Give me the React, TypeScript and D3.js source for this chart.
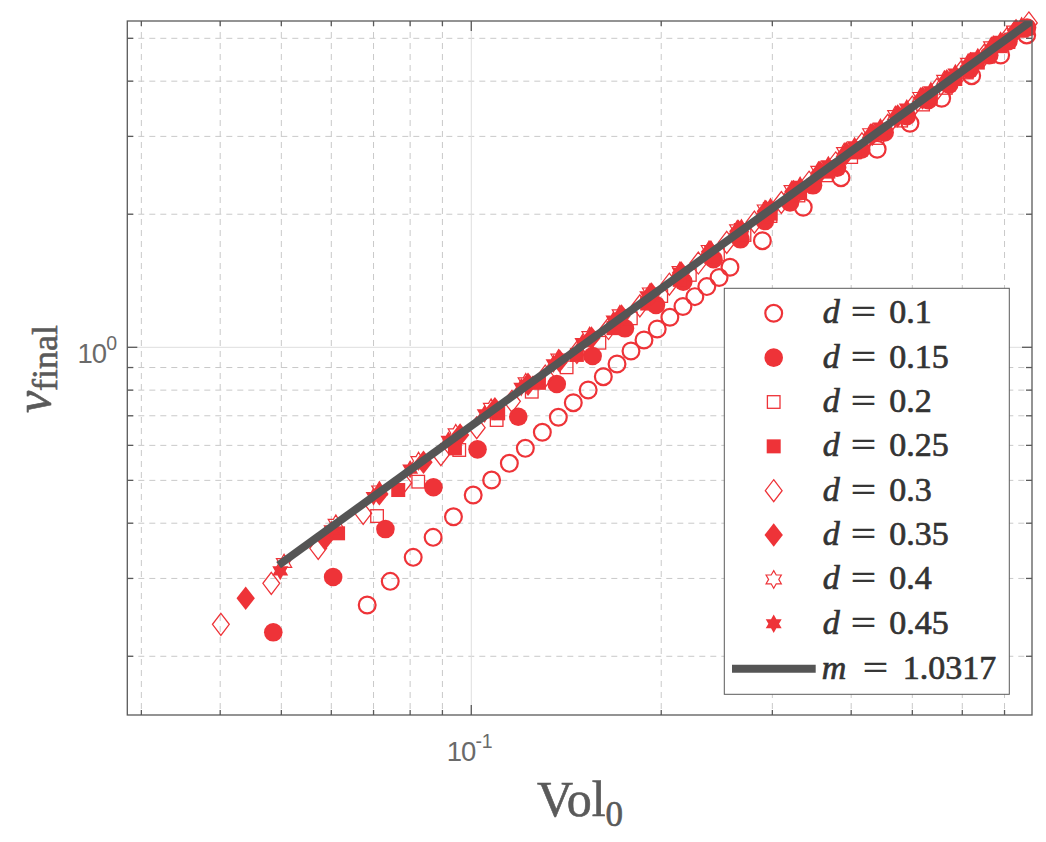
import React from "react";
import * as d3 from "d3";

// ---- figure geometry ----
const WIDTH = 1046;
const HEIGHT = 842;
const PLOT = { left: 127.3, right: 1032, top: 21, bottom: 715 };

// ---- axes ----
const X_DOMAIN: [number, number] = [0.0285, 0.7738];
const Y_DOMAIN: [number, number] = [0.1473, 5.472];
const X_MAJOR = [0.1];
const X_MINOR = [0.03, 0.04, 0.05, 0.06, 0.07, 0.08, 0.09, 0.2, 0.3, 0.4, 0.5, 0.6, 0.7];
const Y_MAJOR = [1];
const Y_MINOR = [0.2, 0.3, 0.4, 0.5, 0.6, 0.7, 0.8, 0.9, 2, 3, 4, 5];

// ---- power-law fit ----
const FIT_SLOPE = 1.0317;
const FIT_COEF = 7.145;
const FIT_X_RANGE = [0.0495, 0.7738];

// ---- measurements, one pair of arrays per d ----
const VOL_D010 = [0.0684, 0.0744, 0.0809, 0.087, 0.0937, 0.1007, 0.1077, 0.1149, 0.1218, 0.1296, 0.1374, 0.1451, 0.1532, 0.1619, 0.1702, 0.1791, 0.1878, 0.1971, 0.2064, 0.2165, 0.2261, 0.2362, 0.247, 0.257, 0.2893, 0.3358, 0.3854, 0.4398, 0.4957, 0.5565, 0.6209, 0.6902, 0.759];
const VF_D010 = [0.2612, 0.2955, 0.3348, 0.3716, 0.4136, 0.4632, 0.5008, 0.5464, 0.5908, 0.6423, 0.6944, 0.7493, 0.8005, 0.8581, 0.9167, 0.9809, 1.0387, 1.1, 1.1692, 1.2367, 1.3019, 1.3717, 1.4387, 1.5171, 1.7425, 2.074, 2.4193, 2.8052, 3.2122, 3.6595, 4.1159, 4.5847, 5.0885];

const VOL_D015 = [0.04855, 0.0604, 0.0731, 0.0871, 0.1023, 0.1187, 0.1366, 0.1557, 0.1752, 0.1962, 0.2168, 0.242, 0.267, 0.292, 0.32, 0.348, 0.38, 0.415, 0.452, 0.49, 0.53, 0.572, 0.616, 0.662, 0.71, 0.76];
const VF_D015 = [0.2266, 0.3022, 0.388, 0.4823, 0.5877, 0.6966, 0.8259, 0.9557, 1.104, 1.2464, 1.408, 1.582, 1.755, 1.93, 2.126, 2.325, 2.55, 2.798, 3.062, 3.334, 3.623, 3.928, 4.244, 4.577, 4.925, 5.287];

const VOL_D020 = [0.0709, 0.0824, 0.0957, 0.1097, 0.1247, 0.1416, 0.1596, 0.179, 0.2, 0.222, 0.246, 0.271, 0.298, 0.33, 0.365, 0.4, 0.44, 0.48, 0.52, 0.565, 0.61, 0.66, 0.71, 0.76];
const VF_D020 = [0.4152, 0.4966, 0.5857, 0.6847, 0.7935, 0.901, 1.024, 1.163, 1.306, 1.458, 1.622, 1.795, 1.981, 2.205, 2.449, 2.694, 2.975, 3.257, 3.541, 3.862, 4.185, 4.543, 4.904, 5.265];

const VOL_D025 = [0.0615, 0.0766, 0.0942, 0.1103, 0.128, 0.147, 0.168, 0.19, 0.214, 0.24, 0.268, 0.298, 0.332, 0.368, 0.405, 0.445, 0.49, 0.535, 0.585, 0.635, 0.69, 0.745];
const VF_D025 = [0.3795, 0.4755, 0.5908, 0.709, 0.831, 0.961, 1.105, 1.256, 1.421, 1.602, 1.797, 2.006, 2.245, 2.497, 2.76, 3.045, 3.362, 3.685, 4.045, 4.406, 4.8, 5.201];

const VOL_D030 = [0.0401, 0.0482, 0.0572, 0.0674, 0.078, 0.0895, 0.102, 0.116, 0.131, 0.147, 0.165, 0.185, 0.206, 0.229, 0.254, 0.281, 0.31, 0.343, 0.378, 0.416, 0.457, 0.5, 0.547, 0.597, 0.65, 0.706, 0.765];
const VF_D030 = [0.2362, 0.2924, 0.3509, 0.4211, 0.4935, 0.5717, 0.6578, 0.7548, 0.8603, 0.9738, 1.1027, 1.241, 1.389, 1.551, 1.727, 1.919, 2.126, 2.363, 2.612, 2.886, 3.179, 3.493, 3.832, 4.193, 4.578, 4.985, 5.416];

const VOL_D035 = [0.0439, 0.0586, 0.0715, 0.084, 0.096, 0.109, 0.123, 0.138, 0.155, 0.173, 0.193, 0.215, 0.239, 0.265, 0.293, 0.324, 0.357, 0.393, 0.432, 0.474, 0.519, 0.567, 0.618, 0.672, 0.73];
const VF_D035 = [0.2705, 0.369, 0.466, 0.5495, 0.6337, 0.7261, 0.8248, 0.9308, 1.0503, 1.1774, 1.32, 1.475, 1.645, 1.83, 2.03, 2.252, 2.489, 2.748, 3.03, 3.335, 3.663, 4.012, 4.385, 4.78, 5.207];

const VOL_D040 = [0.0505, 0.061, 0.0715, 0.0825, 0.0945, 0.1075, 0.122, 0.1375, 0.154, 0.172, 0.192, 0.214, 0.238, 0.264, 0.292, 0.322, 0.355, 0.39, 0.429, 0.47, 0.515, 0.562, 0.613, 0.667, 0.725];
const VF_D040 = [0.3251, 0.399, 0.4746, 0.553, 0.6391, 0.7301, 0.8336, 0.9431, 1.06, 1.188, 1.331, 1.488, 1.661, 1.849, 2.051, 2.269, 2.509, 2.765, 3.051, 3.353, 3.685, 4.031, 4.401, 4.799, 5.206];

const VOL_D045 = [0.0498, 0.06, 0.07, 0.08, 0.092, 0.105, 0.12, 0.135, 0.15, 0.168, 0.19, 0.214, 0.24, 0.268, 0.298, 0.332, 0.368, 0.405, 0.445, 0.49, 0.535, 0.585, 0.635, 0.69, 0.745];
const VF_D045 = [0.3119, 0.3864, 0.4597, 0.5303, 0.6157, 0.7071, 0.8122, 0.918, 1.0246, 1.1515, 1.3075, 1.4782, 1.6639, 1.8646, 2.08, 2.325, 2.586, 2.856, 3.147, 3.475, 3.805, 4.173, 4.54, 4.946, 5.338];

const D_LABELS = ["0.1", "0.15", "0.2", "0.25", "0.3", "0.35", "0.4", "0.45"];

type MarkerKind = "circle" | "square" | "diamond" | "hexagram";

const SERIES = [
  { label: D_LABELS[0], vol: VOL_D010, vf: VF_D010, kind: "circle" as MarkerKind, filled: false },
  { label: D_LABELS[1], vol: VOL_D015, vf: VF_D015, kind: "circle" as MarkerKind, filled: true },
  { label: D_LABELS[2], vol: VOL_D020, vf: VF_D020, kind: "square" as MarkerKind, filled: false },
  { label: D_LABELS[3], vol: VOL_D025, vf: VF_D025, kind: "square" as MarkerKind, filled: true },
  { label: D_LABELS[4], vol: VOL_D030, vf: VF_D030, kind: "diamond" as MarkerKind, filled: false },
  { label: D_LABELS[5], vol: VOL_D035, vf: VF_D035, kind: "diamond" as MarkerKind, filled: true },
  { label: D_LABELS[6], vol: VOL_D040, vf: VF_D040, kind: "hexagram" as MarkerKind, filled: false },
  { label: D_LABELS[7], vol: VOL_D045, vf: VF_D045, kind: "hexagram" as MarkerKind, filled: true },
];

const RED = "#ee3338";
const FIT_GRAY = "#555555";
const AXIS_GRAY = "#5a5a5a";
const TICK_GRAY = "#6a6a6a";
const TEXT_DARK = "#333333";
const SERIF = "'Liberation Serif', 'DejaVu Serif', serif";
const SANS = "'Liberation Sans', Arial, sans-serif";

function hexagramPath(R: number): string {
  const r = R / Math.sqrt(3);
  const pts: [number, number][] = [];
  for (let k = 0; k < 12; k++) {
    const a = ((-90 + 30 * k) * Math.PI) / 180;
    const rr = k % 2 === 0 ? R : r;
    pts.push([rr * Math.cos(a), rr * Math.sin(a)]);
  }
  return "M" + pts.map((p) => `${p[0].toFixed(2)},${p[1].toFixed(2)}`).join("L") + "Z";
}

function Marker({ kind, filled, x, y }: { kind: MarkerKind; filled: boolean; x: number; y: number }) {
  const fill = filled ? RED : "none";
  const stroke = filled ? "none" : RED;
  const t = `translate(${x},${y})`;
  if (kind === "circle") {
    return filled ? (
      <circle cx={x} cy={y} r={9.3} fill={RED} />
    ) : (
      <circle cx={x} cy={y} r={8.4} fill="none" stroke={RED} strokeWidth={2.2} />
    );
  }
  if (kind === "square") {
    const s = filled ? 14 : 12.6;
    return (
      <rect x={x - s / 2} y={y - s / 2} width={s} height={s} fill={fill} stroke={stroke} strokeWidth={1.3} />
    );
  }
  if (kind === "diamond") {
    const hw = filled ? 9.2 : 8.4;
    const hh = filled ? 11.7 : 11;
    return (
      <path transform={t} d={`M0,${-hh}L${hw},0L0,${hh}L${-hw},0Z`} fill={fill} stroke={stroke} strokeWidth={1.3} />
    );
  }
  return <path transform={t} d={hexagramPath(filled ? 9.2 : 8.8)} fill={fill} stroke={stroke} strokeWidth={1.2} />;
}

function PowerLabel({ x, y, exponent, anchor }: { x: number; y: number; exponent: number; anchor: "start" | "end" }) {
  return (
    <text x={x} y={y} fontSize={27.5} letterSpacing={-1} textAnchor={anchor}>
      10
      <tspan dy={-13} fontSize={19.5} letterSpacing={0}>
        {exponent}
      </tspan>
    </text>
  );
}

// one legend line: italic symbol, a widened "=" and the value
function LegendText({ y, sym, symX, eqX, val, valX }: { y: number; sym: string; symX: number; eqX: number; val: string; valX: number }) {
  const common = {
    fontFamily: SERIF,
    fontSize: 34,
    fill: TEXT_DARK,
    stroke: TEXT_DARK,
    strokeWidth: 0.7,
  };
  return (
    <g>
      <text x={symX} y={y} fontStyle="italic" {...common}>
        {sym}
      </text>
      <text transform={`translate(${eqX},${y}) scale(1.3,1)`} {...common}>
        =
      </text>
      <text x={valX} y={y} {...common}>
        {val}
      </text>
    </g>
  );
}

export default function App() {
  const x = d3.scaleLog().domain(X_DOMAIN).range([PLOT.left, PLOT.right]);
  const y = d3.scaleLog().domain(Y_DOMAIN).range([PLOT.bottom, PLOT.top]);

  const fitLine = d3
    .line<number>()
    .x((v) => x(v))
    .y((v) => y(FIT_COEF * Math.pow(v, FIT_SLOPE)));

  const plotW = PLOT.right - PLOT.left;
  const plotH = PLOT.bottom - PLOT.top;

  // legend layout
  const LEG = { left: 724.3, top: 288.3, right: 1009.3, bottom: 694.3 };
  const legRow0 = 313.3;
  const legStep = 44.35;
  const legMarkerX = 773.7;

  return (
    <svg
      width={WIDTH}
      height={HEIGHT}
      viewBox={`0 0 ${WIDTH} ${HEIGHT}`}
      style={{ position: "absolute", left: 0, top: 0, background: "#fff" }}
    >
      <defs>
        <clipPath id="plot-clip">
          <rect x={PLOT.left} y={PLOT.top} width={plotW} height={plotH} />
        </clipPath>
      </defs>
      <rect x={0} y={0} width={WIDTH} height={HEIGHT} fill="#fff" />

      {/* minor grid */}
      <g stroke="#c9c9c9" strokeWidth={1} strokeDasharray="6,5" fill="none">
        {X_MINOR.map((v) => (
          <line key={"xm" + v} x1={x(v)} x2={x(v)} y1={PLOT.top} y2={PLOT.bottom} />
        ))}
        {Y_MINOR.map((v) => (
          <line key={"ym" + v} x1={PLOT.left} x2={PLOT.right} y1={y(v)} y2={y(v)} />
        ))}
      </g>
      {/* major grid */}
      <g stroke="#dedede" strokeWidth={1} fill="none">
        {X_MAJOR.map((v) => (
          <line key={"xM" + v} x1={x(v)} x2={x(v)} y1={PLOT.top} y2={PLOT.bottom} />
        ))}
        {Y_MAJOR.map((v) => (
          <line key={"yM" + v} x1={PLOT.left} x2={PLOT.right} y1={y(v)} y2={y(v)} />
        ))}
      </g>

      {/* data */}
      <g>
        {SERIES.map((s) =>
          s.vol.map((v, i) => (
            <Marker key={s.label + "-" + i} kind={s.kind} filled={s.filled} x={x(v)} y={y(s.vf[i])} />
          ))
        )}
      </g>

      {/* fitted power law */}
      <path
        d={fitLine(FIT_X_RANGE) || ""}
        fill="none"
        stroke={FIT_GRAY}
        strokeWidth={8}
        clipPath="url(#plot-clip)"
      />

      {/* frame and ticks */}
      <g stroke={AXIS_GRAY} strokeWidth={1.3} fill="none">
        <rect x={PLOT.left} y={PLOT.top} width={plotW} height={plotH} />
        {X_MINOR.map((v) => (
          <g key={"xt" + v}>
            <line x1={x(v)} x2={x(v)} y1={PLOT.bottom} y2={PLOT.bottom - 5} />
            <line x1={x(v)} x2={x(v)} y1={PLOT.top} y2={PLOT.top + 5} />
          </g>
        ))}
        {X_MAJOR.map((v) => (
          <g key={"xT" + v}>
            <line x1={x(v)} x2={x(v)} y1={PLOT.bottom} y2={PLOT.bottom - 10} />
            <line x1={x(v)} x2={x(v)} y1={PLOT.top} y2={PLOT.top + 10} />
          </g>
        ))}
        {Y_MINOR.map((v) => (
          <g key={"yt" + v}>
            <line x1={PLOT.left} x2={PLOT.left + 6} y1={y(v)} y2={y(v)} />
            <line x1={PLOT.right} x2={PLOT.right - 6} y1={y(v)} y2={y(v)} />
          </g>
        ))}
        {Y_MAJOR.map((v) => (
          <g key={"yT" + v}>
            <line x1={PLOT.left} x2={PLOT.left + 10} y1={y(v)} y2={y(v)} />
            <line x1={PLOT.right} x2={PLOT.right - 10} y1={y(v)} y2={y(v)} />
          </g>
        ))}
      </g>

      {/* tick labels */}
      <g fill={TICK_GRAY} fontFamily={SANS}>
        {X_MAJOR.map((v) => (
          <PowerLabel key={"xl" + v} x={x(v) - 24.5} y={761} exponent={Math.round(Math.log10(v))} anchor="start" />
        ))}
        {Y_MAJOR.map((v) => (
          <PowerLabel key={"yl" + v} x={117} y={y(v) + 15.5} exponent={Math.round(Math.log10(v))} anchor="end" />
        ))}
      </g>

      {/* axis labels */}
      <text
        x={580}
        y={816}
        textAnchor="middle"
        fontFamily={SERIF}
        fontSize={50}
        fill={AXIS_GRAY}
        stroke={AXIS_GRAY}
        strokeWidth={0.6}
      >
        Vol
        <tspan dy={10} fontSize={35}>
          0
        </tspan>
      </text>
      <text
        transform="translate(50,369) rotate(-90)"
        textAnchor="middle"
        fontFamily={SERIF}
        fontSize={50}
        fill={AXIS_GRAY}
        stroke={AXIS_GRAY}
        strokeWidth={0.6}
      >
        <tspan fontStyle="italic">v</tspan>
        <tspan dy={7} fontSize={36}>
          final
        </tspan>
      </text>

      {/* legend */}
      <rect
        x={LEG.left}
        y={LEG.top}
        width={LEG.right - LEG.left}
        height={LEG.bottom - LEG.top}
        fill="#fff"
        stroke={AXIS_GRAY}
        strokeWidth={1}
      />
      {SERIES.map((s, i) => {
        const cy = legRow0 + i * legStep;
        return (
          <g key={"leg" + s.label}>
            <Marker kind={s.kind} filled={s.filled} x={legMarkerX} y={cy} />
            <LegendText y={cy + 10} sym="d" symX={822.7} eqX={851} val={s.label} valX={889.3} />
          </g>
        );
      })}
      {(() => {
        const cy = legRow0 + SERIES.length * legStep + 0.6;
        return (
          <g>
            <line x1={732} x2={815.7} y1={cy} y2={cy} stroke={FIT_GRAY} strokeWidth={8} />
            <LegendText y={cy + 10} sym="m" symX={821.7} eqX={863} val={FIT_SLOPE.toFixed(4)} valX={902.7} />
          </g>
        );
      })()}
    </svg>
  );
}
